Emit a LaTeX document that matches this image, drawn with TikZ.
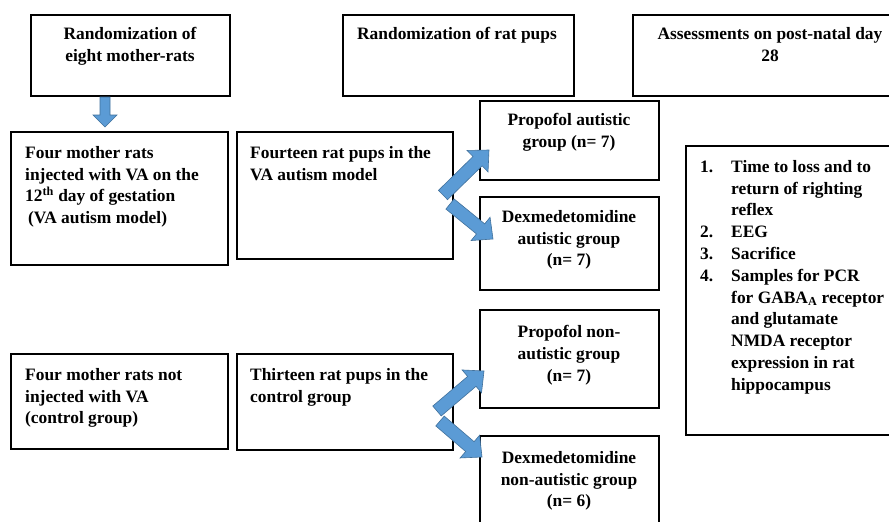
\documentclass[tikz,border=0pt]{standalone}
\usepackage{fontspec}
\setmainfont{Liberation Serif}
\usetikzlibrary{calc}
\definecolor{arrfill}{HTML}{5B9BD5}
\definecolor{arredge}{HTML}{41719C}
\newcommand\blockarr[5]{%
  \coordinate (hh) at ($(#2)!#5!(#1)$);
  \filldraw[fill=arrfill, draw=arredge, line width=0.6pt, line join=miter]
   ($(#1)!#3!90:(#2)$) -- ($(hh)!#3!90:(#2)$) -- ($(hh)!#4!90:(#2)$) -- (#2)
   -- ($(hh)!#4!-90:(#2)$) -- ($(hh)!#3!-90:(#2)$) -- ($(#1)!#3!-90:(#2)$) -- cycle;}
\tikzset{
  box/.style={draw, line width=2pt, inner sep=0pt, anchor=north west},
  txt/.style={inner sep=0pt, font=\fontsize{17.4}{21.8}\selectfont\bfseries},
}
\begin{document}
\begin{tikzpicture}[x=1pt, y=-1pt]
\fill[white] (0,0) rectangle (889,522);
\useasboundingbox (0,0) rectangle (889,522);
% boxes
\node[box, minimum width=199pt, minimum height=81pt] (b1) at (30,14) {};
\node[box, minimum width=231pt, minimum height=81pt] (b2) at (342,14) {};
\node[box, minimum width=276pt, minimum height=81pt] (b3) at (632,14) {};
\node[box, minimum width=217pt, minimum height=133pt] (b4) at (10,131) {};
\node[box, minimum width=216pt, minimum height=127pt] (b5) at (236,131) {};
\node[box, minimum width=179pt, minimum height=79pt] (b6) at (479,100) {};
\node[box, minimum width=179pt, minimum height=93pt] (b7) at (479,196) {};
\node[box, minimum width=230pt, minimum height=289pt] (b8) at (685,145) {};
\node[box, minimum width=217pt, minimum height=95pt] (b9) at (10,353) {};
\node[box, minimum width=216pt, minimum height=96pt] (b10) at (236,353) {};
\node[box, minimum width=179pt, minimum height=98pt] (b11) at (479,309) {};
\node[box, minimum width=179pt, minimum height=105pt] (b12) at (479,435) {};
% texts
\node[txt, anchor=north, align=center] (t1) at (130,27) {Randomization of\\eight mother-rats};
\node[txt, anchor=north, align=center] (t2) at (457,27) {Randomization of rat pups};
\node[txt, anchor=north, align=center] (t3) at (770,27) {Assessments on post-natal day\\28};
\node[txt, anchor=north west, align=left] (t4) at (25,146) {Four mother rats\\injected with VA on the\\12\textsuperscript{th} day of gestation\\\hspace*{3pt}(VA autism model)};
\node[txt, anchor=north west, align=left] (t5) at (250,146) {Fourteen rat pups in the\\VA autism model};
\node[txt, anchor=north, align=center] (t6) at (569,113) {Propofol autistic\\group (n= 7)};
\node[txt, anchor=north, align=center] (t7) at (569,210) {Dexmedetomidine\\autistic group\\(n= 7)};
\node[txt, anchor=north west, align=left] (t8) at (700,160) {%
\makebox[31pt][l]{1.}Time to loss and to\\
\hspace*{31pt}return of righting\\
\hspace*{31pt}reflex\\
\makebox[31pt][l]{2.}EEG\\
\makebox[31pt][l]{3.}Sacrifice\\
\makebox[31pt][l]{4.}Samples for PCR\\
\hspace*{31pt}for GABA\textsubscript{A} receptor\\
\hspace*{31pt}and glutamate\\
\hspace*{31pt}NMDA receptor\\
\hspace*{31pt}expression in rat\\
\hspace*{31pt}hippocampus};
\node[txt, anchor=north west, align=left] (t9) at (25,368) {Four mother rats not\\injected with VA\\(control group)};
\node[txt, anchor=north west, align=left] (t10) at (250,368) {Thirteen rat pups in the\\control group};
\node[txt, anchor=north, align=center] (t11) at (569,325) {Propofol non-\\autistic group\\(n= 7)};
\node[txt, anchor=north, align=center] (t12) at (569,451) {Dexmedetomidine\\non-autistic group\\(n= 6)};
% arrows
\coordinate (a1s) at (b1.south west -| 105,0);
\coordinate (a1e) at (105,127);
\blockarr{a1s}{a1e}{5pt}{12pt}{12pt}
\coordinate (a2s) at (443,195);
\coordinate (a2e) at (489,150);
\blockarr{a2s}{a2e}{6.5pt}{15pt}{16pt}
\coordinate (a3s) at (450,204);
\coordinate (a3e) at (493,239);
\blockarr{a3s}{a3e}{6.5pt}{15pt}{16pt}
\coordinate (a4s) at (437,411);
\coordinate (a4e) at (484,371);
\blockarr{a4s}{a4e}{6.5pt}{15pt}{16pt}
\coordinate (a5s) at (440,421);
\coordinate (a5e) at (482,457);
\blockarr{a5s}{a5e}{6.5pt}{15pt}{16pt}
\end{tikzpicture}
\end{document}
